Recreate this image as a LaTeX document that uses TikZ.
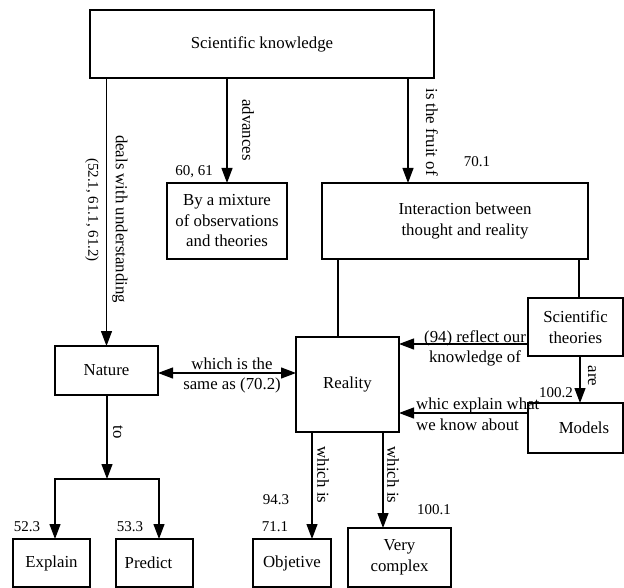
\documentclass[tikz,border=0pt]{standalone}
\usepackage{fontspec}
\setmainfont{Liberation Serif}
\usetikzlibrary{arrows.meta}
\begin{document}
\begin{tikzpicture}[x=1pt,y=-1pt,
  box/.style={draw, line width=1.2pt, inner sep=0pt, outer sep=0pt, align=center, font=\fontsize{16.8}{20.5}\selectfont},
  lbl/.style={inner sep=0pt, align=center, font=\fontsize{16.8}{20.5}\selectfont},
  num/.style={inner sep=0pt, font=\fontsize{15}{18}\selectfont},
  tip/.tip={Triangle[length=15pt,width=11pt]},
  arr/.style={line width=1.2pt, -tip},
  con/.style={line width=1.2pt},
]
\useasboundingbox (0,0) rectangle (624,588);

% boxes
\node[box, minimum width=344pt, minimum height=68pt] (sk) at (262,44) {\raisebox{-3pt}{Scientific knowledge}};
\node[box, minimum width=120pt, minimum height=76pt] (mix) at (227,221) {By a mixture\\of observations\\and theories};
\node[box, minimum width=266pt, minimum height=76pt] (inter) at (455,221) {\kern20pt Interaction between\\\kern20pt thought and reality};
\node[box, minimum width=103pt, minimum height=49pt] (nature) at (106.5,370.5) {Nature};
\node[box, minimum width=103pt, minimum height=95pt] (reality) at (347.5,384.5) {Reality};
\node[box, minimum width=95pt, minimum height=58pt] (sth) at (575.5,327) {Scientific\\theories};
\node[box, minimum width=95pt, minimum height=50pt] (models) at (575.5,428) {\kern17pt Models};
\node[box, minimum width=77pt, minimum height=48pt] (explain) at (51.5,563) {Explain};
\node[box, minimum width=77pt, minimum height=48pt] (predict) at (154.5,563) {Predict\kern12pt};
\node[box, minimum width=78pt, minimum height=48pt] (objetive) at (292,563) {Objetive};
\node[box, minimum width=103pt, minimum height=59pt] (vcomplex) at (399.5,557.5) {Very\\complex};

% helper coordinates
\coordinate (fx) at (408,0);
\coordinate (rx) at (338,0);
\coordinate (tx) at (579,0);
\coordinate (ax) at (580,0);
\coordinate (ox) at (312,0);
\coordinate (vx) at (383,0);
\coordinate (ny) at (0,373);
\coordinate (sy) at (0,344);
\coordinate (my) at (0,413);
\coordinate (j) at (107,479);
\coordinate (jl) at (55,479);
\coordinate (jr) at (159,479);

% connectors
\draw[arr] (sk.south -| nature) -- (nature.north);
\draw[arr] (sk.south -| mix) -- (mix.north);
\draw[arr] (sk.south -| fx) -- (inter.north -| fx);
\draw[con] (inter.south -| rx) -- (reality.north -| rx);
\draw[con] (inter.south -| tx) -- (sth.north -| tx);
\draw[line width=1.2pt, tip-tip] (nature.east |- ny) -- (reality.west |- ny);
\draw[arr] (sth.west |- sy) -- (reality.east |- sy);
\draw[arr] (models.west |- my) -- (reality.east |- my);
\draw[arr] (sth.south -| ax) -- (models.north -| ax);
\draw[arr] (reality.south -| ox) -- (objetive.north -| ox);
\draw[arr] (reality.south -| vx) -- (vcomplex.north -| vx);
\draw[arr] (nature.south -| j) -- (j);
\draw[arr] (jl) -- (jr) -- (predict.north -| jr);
\draw[arr] (jr) -- (jl) -- (explain.north -| jl);

% labels
\node[lbl, rotate=-90] (ladv) at (248,130) {advances};
\node[lbl, rotate=-90] (lfruit) at (432,132) {is the fruit of};
\node[lbl, rotate=-90] (ldeal) at (120,219) {deals with understanding};
\node[num, rotate=-90] (lref) at (92,210) {(52.1, 61.1, 61.2)};
\node[num] (n6061) at (194,172) {60, 61};
\node[num] (n701) at (477,162) {70.1};
\node[lbl] (lsame) at (232,375.5) {which is the\\same as (70.2)};
\node[lbl] (lrefl) at (475,348.5) {(94) reflect our\\knowledge of};
\node[lbl, anchor=west, align=left] (lexpl) at (416,414.5) {whic explain what\\we know about};
\node[lbl, rotate=-90] (lare) at (592,376) {are};
\node[lbl, rotate=-90] (lto) at (118,432) {to};
\node[lbl, rotate=-90] (lwi1) at (323,475) {which is};
\node[lbl, rotate=-90] (lwi2) at (393,475) {which is};
\node[num] (n943) at (276,500) {94.3};
\node[num] (n711) at (275,527) {71.1};
\node[num] (n1001) at (434,510) {100.1};
\node[num] (n523) at (27,527) {52.3};
\node[num] (n533) at (130,527) {53.3};
\node[num] (n1002) at (556,393) {100.2};
\end{tikzpicture}
\end{document}
